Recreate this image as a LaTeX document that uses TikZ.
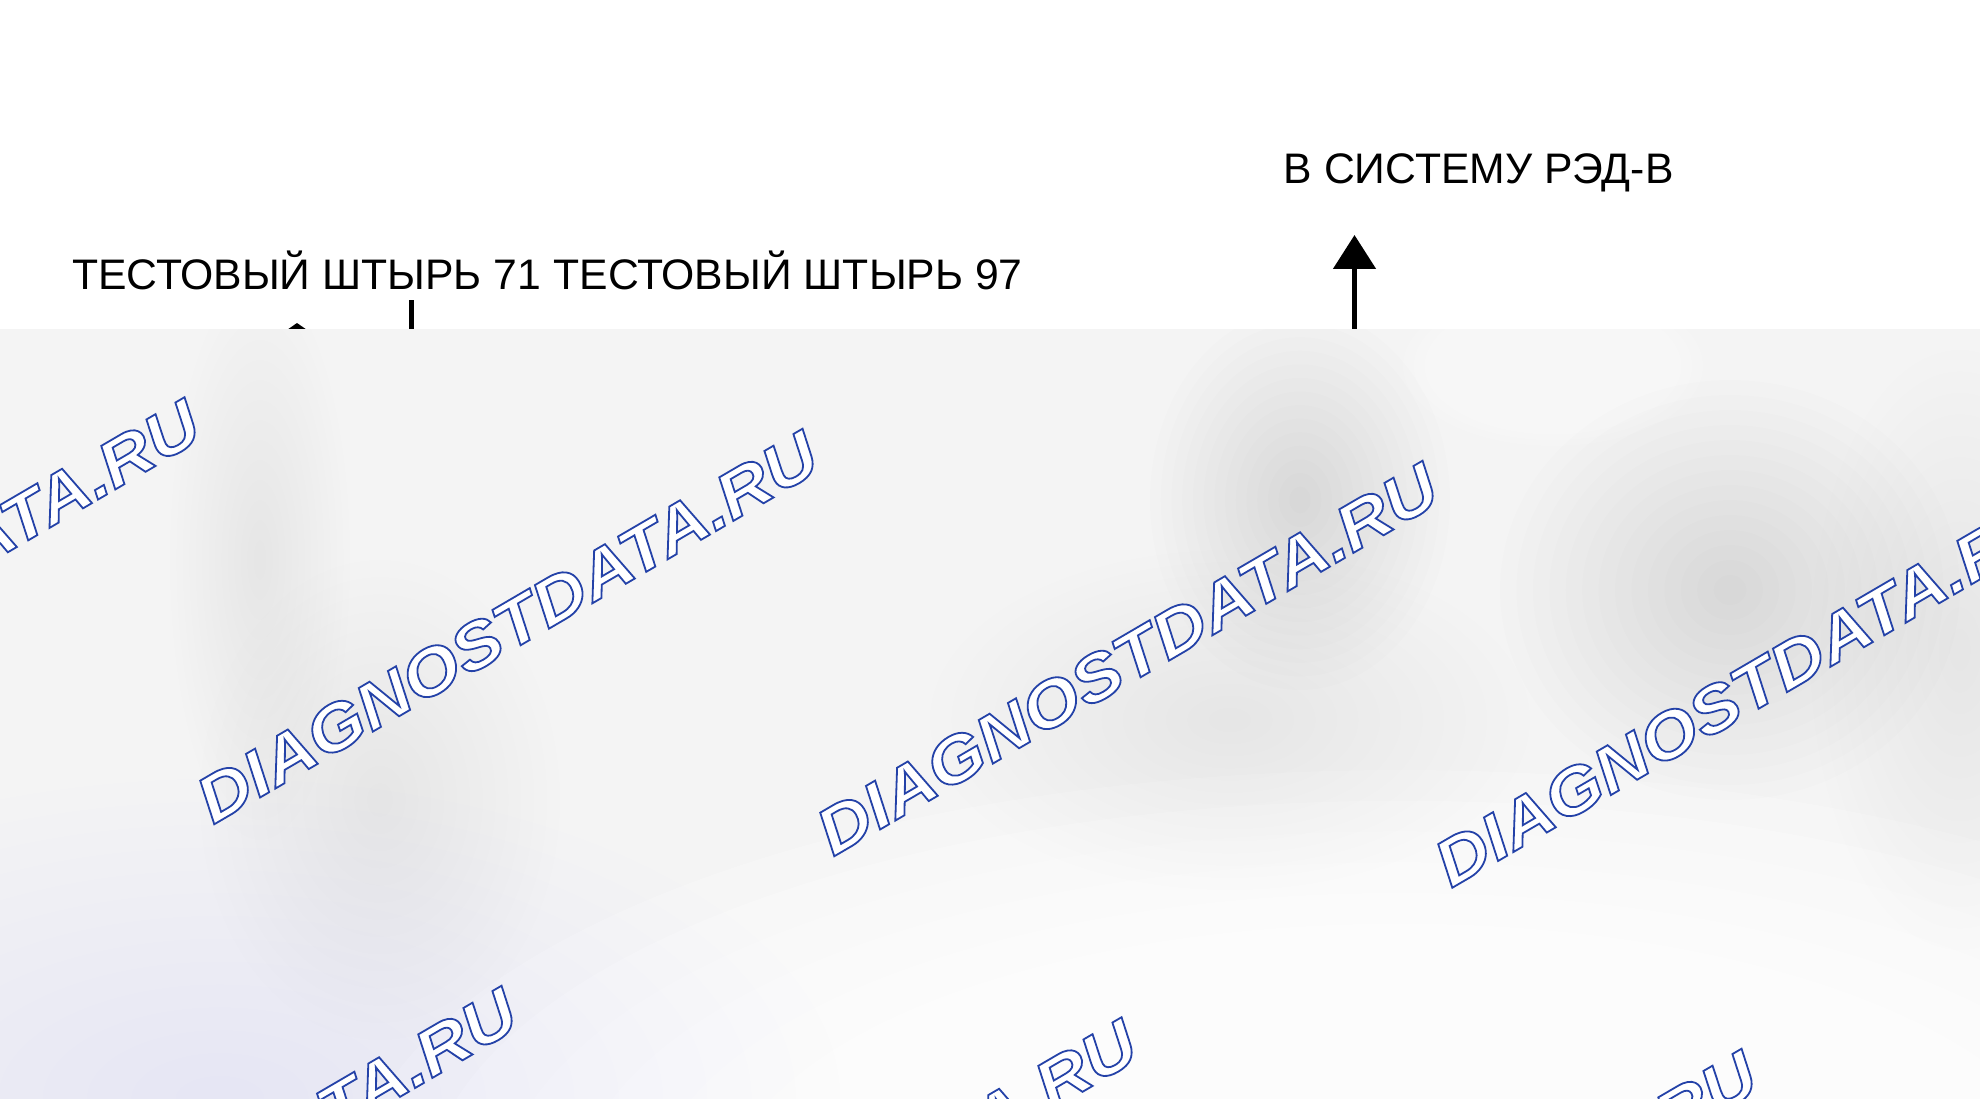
\documentclass[tikz,border=0pt]{standalone}
\usepackage{fontspec}
\setmainfont{Liberation Sans}
\newfontfamily\wmfont[FakeStretch=1.13]{Liberation Sans Bold Italic}
\usetikzlibrary{arrows.meta}
\definecolor{ovbase}{RGB}{244,244,244}
\definecolor{bluetint}{RGB}{175,205,250}
\newcommand\wmtext{\special{pdf:code 2 Tr 1.8 w 0.14 0.26 0.66 RG 1 1 1 rg}{\wmfont\fontsize{65}{65}\selectfont DIAGNOSTDATA.RU}\special{pdf:code 0 Tr}}
\newcommand\blob[6]{\foreach \bi in {1,...,14}{\fill[#5,opacity=#6] (#1,#2) ellipse [x radius={#3*(15-\bi)/14}, y radius={#4*(15-\bi)/14}];}}
\tikzset{
  lbl/.style={inner sep=0pt, font=\fontsize{42.7}{50}\selectfont, anchor=base west},
  wm/.style={inner sep=0pt, anchor=base west, rotate=30.3},
  bigarrow/.style={line width=5pt, -{Triangle[width=42pt,length=34pt]}},
  smallarrow/.style={line width=5pt, -{Triangle[width=34pt,length=12pt]}},
  pinline/.style={line width=5pt}
}
\begin{document}
\begin{tikzpicture}[x=1pt,y=-1pt]
\useasboundingbox (0,0) rectangle (1980,1099);
\fill[white] (0,0) rectangle (1980,1099);
% labels
\node[lbl] (t71) at (72,290) {ТЕСТОВЫЙ ШТЫРЬ 71};
\node[lbl] (t97) at ([xshift=11.9pt]t71.base east) {ТЕСТОВЫЙ ШТЫРЬ 97};
\node[lbl] (red) at (1283.5,184) {В СИСТЕМУ РЭД-В};
% connectors (their lower parts are hidden by the overlay)
\coordinate (a1bot) at (1354.5,380);
\coordinate (a1top) at (1354.5,235);
\draw[bigarrow] (a1bot) -- (a1top);
\coordinate (p71bot) at (297,400);
\coordinate (p71top) at (297,323);
\draw[smallarrow] (p71bot) -- (p71top);
\coordinate (p97bot) at (411,400);
\coordinate (p97top) at (411,300);
\draw[pinline] (p97bot) -- (p97top);
% blurred overlay
\begin{scope}
\clip (0,329) rectangle (1980,1099);
\fill[ovbase] (0,329) rectangle (1980,1099);
\blob{1400}{1200}{1050}{430}{white}{0.25}
\blob{1553}{366}{150}{80}{white}{0.12}
\blob{0}{520}{190}{420}{white}{0.06}
\blob{380}{800}{180}{240}{black}{0.005}
\blob{260}{560}{90}{280}{black}{0.0025}
\blob{1300}{500}{150}{190}{black}{0.007}
\blob{1730}{590}{230}{210}{black}{0.008}
\blob{1230}{720}{300}{170}{black}{0.005}
\blob{1960}{650}{150}{300}{black}{0.004}
\blob{220}{1099}{620}{320}{bluetint}{0.009}
% watermarks
\node[wm] (w1) at (-405,793.5) {\wmtext};
\node[wm] (w2) at (213,825) {\wmtext};
\node[wm] (w3) at (833,857) {\wmtext};
\node[wm] (w4) at (1451,888.5) {\wmtext};
\node[wm] (w5) at (-88,1382) {\wmtext};
\node[wm] (w6) at (532,1413.5) {\wmtext};
\node[wm] (w7) at (1152,1445) {\wmtext};
\end{scope}
\end{tikzpicture}
\end{document}
